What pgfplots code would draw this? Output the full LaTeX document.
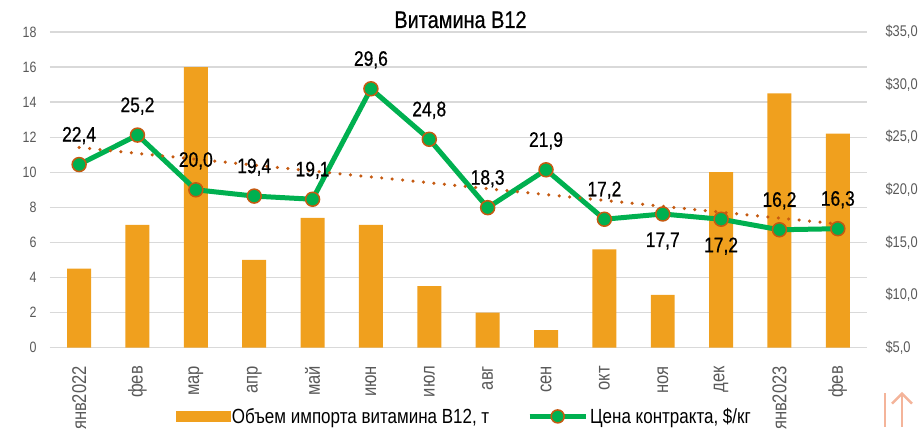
\documentclass[border=0pt]{standalone}
\usepackage{pgfplots}
\pgfplotsset{compat=1.18}
\usepackage{fontspec}
\setmainfont{Liberation Sans}[FakeStretch=0.83]
\newfontfamily\labfont{Liberation Sans}[FakeStretch=0.83, FakeBold=0.6]
\definecolor{barc}{HTML}{F0A01E}
\definecolor{linec}{HTML}{00B050}
\definecolor{markc}{HTML}{C55A11}
\definecolor{gridc}{HTML}{D9D9D9}
\definecolor{tickc}{HTML}{595959}
\definecolor{arrc}{HTML}{F4B49A}
\begin{document}
\begin{tikzpicture}
\path (0,0) rectangle (921pt,430pt);
\node[font=\labfont\fontsize{24}{24}\selectfont, anchor=base] at (461pt,402pt) {Витамина B12};
\begin{axis}[
  at={(50pt,82pt)}, anchor=south west, scale only axis,
  width=818pt, height=316pt,
  xmin=-0.5, xmax=13.5, ymin=0, ymax=18,
  ytick={0,2,...,18},
  xtick={0,...,13},
  xticklabels={янв2022,фев,мар,апр,май,июн,июл,авг,сен,окт,ноя,дек,янв2023,фев},
  /pgf/number format/assume math mode=true,
  x tick label style={rotate=90, anchor=east, font=\fontsize{20}{20}\selectfont, text=tickc, xshift=-15pt},
  y tick label style={font=\fontsize{15}{15}\selectfont, text=tickc, xshift=-10pt},
  ymajorgrids, grid style={gridc, line width=1.3pt},
  axis line style={draw=none}, tick style={draw=none},
  clip=false,
]
\addplot[ybar, bar width=24pt, fill=barc, draw=none] coordinates {
(0,4.5) (1,7) (2,16) (3,5) (4,7.4) (5,7) (6,3.5) (7,2) (8,1) (9,5.6) (10,3) (11,10) (12,14.5) (13,12.2)};
\end{axis}
\begin{axis}[
  at={(50pt,82pt)}, anchor=south west, scale only axis,
  width=818pt, height=316pt,
  xmin=-0.5, xmax=13.5, ymin=5, ymax=35,
  ytick={5,10,...,35},
  axis y line*=right, axis x line=none,
  /pgf/number format/assume math mode=true,
  yticklabel={\$\pgfmathprintnumber[fixed,fixed zerofill,precision=1,use comma]{\tick}},
  y tick label style={font=\fontsize{15.5}{15.5}\selectfont, text=tickc, xshift=15pt},
  axis line style={draw=none}, tick style={draw=none},
  clip=false,
  legend style={at={(0.507,-0.218)}, anchor=center, draw=none, fill=none,
    legend columns=2, font=\fontsize{20.5}{20.5}\selectfont,
    /tikz/every even column/.append style={column sep=36pt},
    cells={anchor=west}},
]
\addlegendimage{legend image code/.code={\fill[barc] (0pt,-5pt) rectangle (54pt,5pt);}}
\addlegendentry{Объем импорта витамина B12, т}
\addlegendimage{legend image code/.code={\draw[linec, line width=5pt] (0pt,0pt) -- (56pt,0pt);
  \draw[markc, fill=linec, line width=1.5pt] (28pt,0pt) circle (6.5pt);}}
\addlegendentry{Цена контракта, \$/кг}
\addplot[linec, line width=5pt, mark=*, mark size=7pt,
  mark options={fill=linec, draw=markc, line width=1.5pt}, forget plot] coordinates {
(0,22.4) (1,25.2) (2,20.0) (3,19.4) (4,19.1) (5,29.6) (6,24.8) (7,18.3) (8,21.9) (9,17.2) (10,17.7) (11,17.2) (12,16.2) (13,16.3)};
\addplot[markc, line width=3.5pt, line cap=round, dash pattern=on 0pt off 10.5pt, forget plot] coordinates {
(0,24.02) (13,16.75)};
\addplot[draw=none, forget plot, nodes near coords={\pgfmathprintnumber[fixed,fixed zerofill,precision=1,use comma]{\pgfplotspointmeta}},
  every node near coord/.append style={anchor=base, inner sep=0pt, yshift=23pt, font=\labfont\fontsize{21}{21}\selectfont, text=black}] coordinates {
(0,22.4) (1,25.2) (2,20.0) (3,19.4) (4,19.1) (5,29.6) (6,24.8) (7,18.3) (8,21.9) (9,17.2) (12,16.2) (13,16.3)};
\addplot[draw=none, forget plot, nodes near coords={\pgfmathprintnumber[fixed,fixed zerofill,precision=1,use comma]{\pgfplotspointmeta}},
  every node near coord/.append style={anchor=base, inner sep=0pt, yshift=-33pt, font=\labfont\fontsize{21}{21}\selectfont, text=black}] coordinates {
(10,17.7) (11,17.2)};
\end{axis}
\draw[arrc, line width=2.5pt] (886pt,3pt) -- (886pt,37pt);
\draw[arrc, line width=2.5pt] (903pt,3pt) -- (903pt,36pt);
\draw[arrc, line width=2.5pt, line join=miter] (893pt,26pt) -- (903pt,36pt) -- (913pt,26pt);
\end{tikzpicture}
\end{document}
